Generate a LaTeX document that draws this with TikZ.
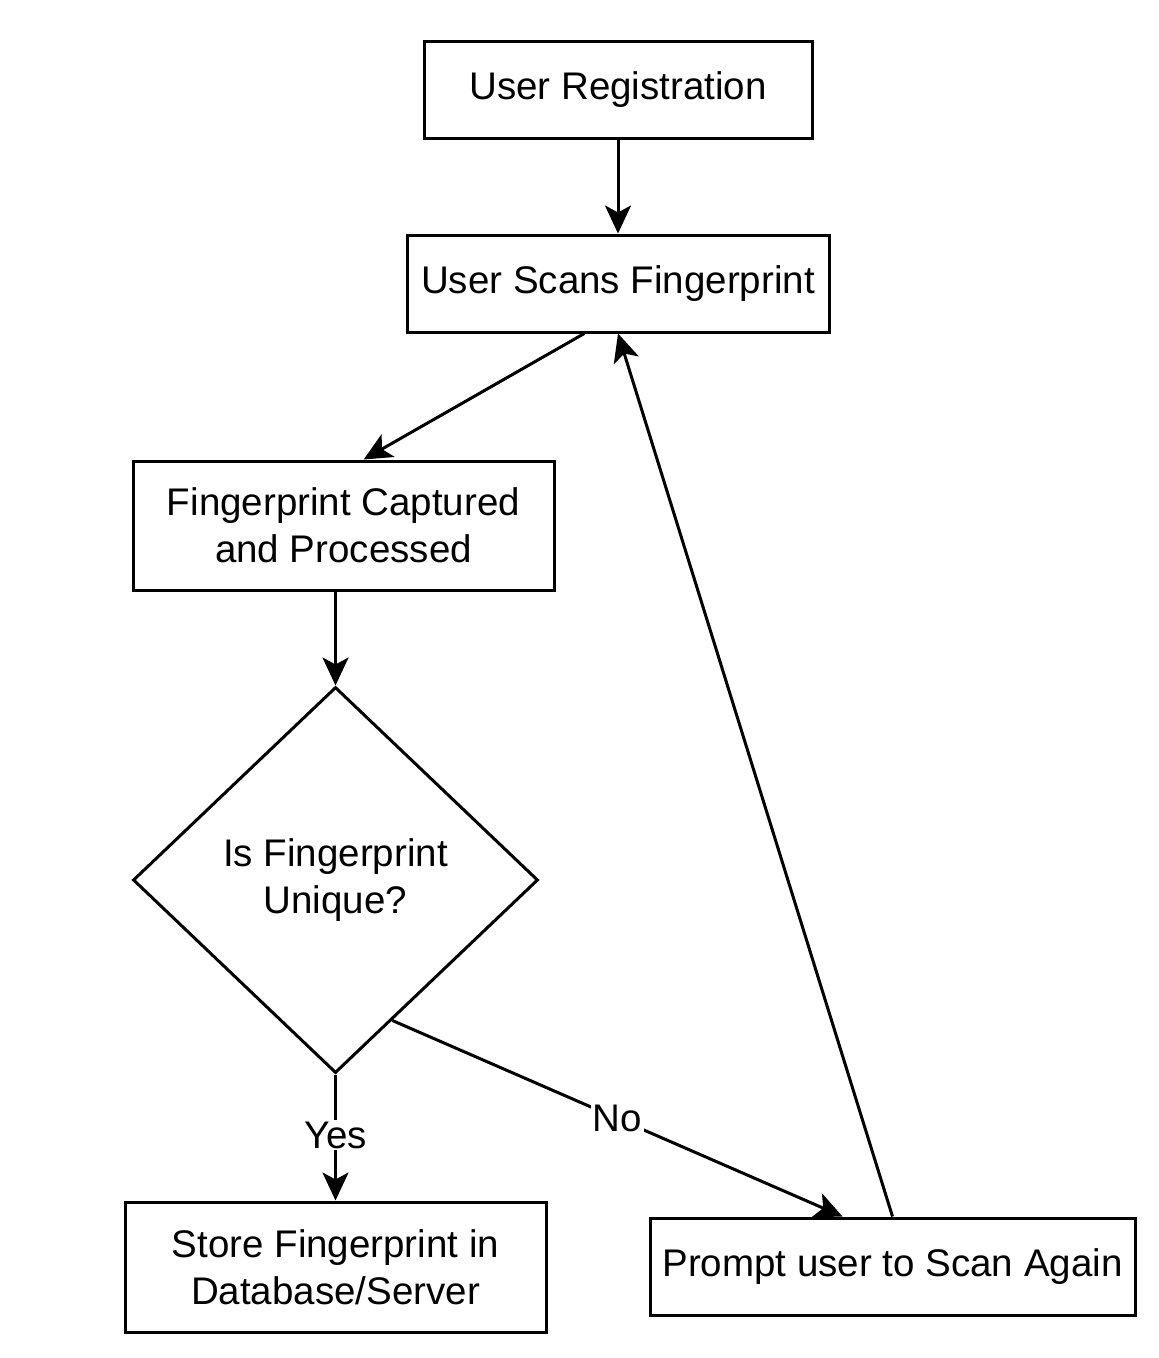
\documentclass[tikz,border=0pt]{standalone}
\usepackage{fontspec}
\setmainfont{Liberation Sans}
\usetikzlibrary{shapes.geometric,arrows.meta,calc}
\begin{document}
\begin{tikzpicture}[x=1pt,y=-1pt,
  every node/.style={font=\fontsize{38.5}{47}\selectfont, inner sep=0pt, align=center},
  box/.style={draw, line width=3pt, rectangle},
  dec/.style={draw, line width=3pt, diamond, minimum width=405pt, minimum height=386pt},
  conn/.style={line width=3pt, -{Stealth[length=28pt,width=26pt,inset=7pt]}},
  lbl/.style={fill=white, inner sep=2pt}]
\useasboundingbox (0,0) rectangle (1159,1358);
\node[box, minimum width=388pt, minimum height=97pt] (ur) at (618,89.5) {\raisebox{-3pt}{User Registration}};
\node[box, minimum width=422pt, minimum height=97pt] (usf) at (618,283.5) {\raisebox{-3pt}{User Scans Fingerprint}};
\node[box, minimum width=421pt, minimum height=129pt] (fcp) at (343.5,525.5) {Fingerprint Captured\\and Processed};
\node[dec] (d) at (335.5,880) {Is Fingerprint\\Unique?};
\node[box, minimum width=421pt, minimum height=130pt] (st) at (335.5,1267) {Store Fingerprint in\\Database/Server};
\node[box, minimum width=485pt, minimum height=97pt] (pr) at (892.5,1266.5) {\raisebox{-3pt}{Prompt user to Scan Again}};
\draw[conn] (ur) -- (usf);
\draw[conn] (usf.-124) -- (fcp.73);
\draw[conn] (d.north |- fcp.south) -- (d.north);
\draw[conn] (d.south) -- (st.north);
\draw[conn] (d.-68) -- (pr.135.6);
\draw[conn] (pr.north) -- (usf.south);
\node[lbl] (yes) at ($(d.south)!0.48!(st.north)$) {Yes};
\node[lbl] (no) at ($(d.-68)!0.5!(pr.135.6)$) {No};
\end{tikzpicture}
\end{document}
